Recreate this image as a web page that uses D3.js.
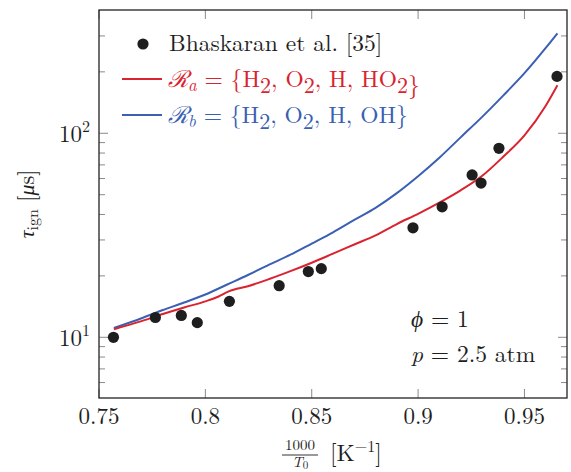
<!DOCTYPE html>
<html>
<head>
<meta charset="utf-8">
<script src="https://cdn.jsdelivr.net/npm/d3@7"></script>
<style>
  html, body { margin: 0; padding: 0; background: #fff; }
  svg { display: block; }
</style>
</head>
<body>
<svg id="chart" width="571" height="472"></svg>
<script>
// Measured ignition delays (Bhaskaran et al.)
const expX = [0.7568, 0.7765, 0.7887, 0.7962, 0.8113, 0.8347, 0.8484, 0.8545, 0.8976, 0.9113, 0.9254, 0.9296, 0.938, 0.9653];
const expY = [10.0, 12.5, 12.8, 11.8, 15.0, 17.9, 21.0, 21.7, 34.4, 43.6, 62.5, 57.0, 84.4, 190];

// Reduced mechanism R_a = {H2, O2, H, HO2}
const redX = [0.757, 0.77, 0.78, 0.79, 0.80, 0.806, 0.811, 0.82, 0.83, 0.84, 0.85, 0.86, 0.87, 0.88, 0.89, 0.90, 0.91, 0.92, 0.93, 0.94, 0.95, 0.96, 0.9655];
const redY = [10.96, 12.0, 13.0, 14.0, 15.0, 15.8, 16.8, 17.8, 19.3, 21.1, 23.2, 25.7, 28.5, 31.6, 35.9, 40.3, 45.7, 52.5, 61.7, 76.7, 97.7, 136.5, 172];

// Reduced mechanism R_b = {H2, O2, H, OH}
const blueX = [0.757, 0.77, 0.78, 0.79, 0.80, 0.81, 0.82, 0.83, 0.84, 0.85, 0.86, 0.87, 0.88, 0.89, 0.90, 0.91, 0.92, 0.93, 0.94, 0.95, 0.96, 0.9655];
const blueY = [11.1, 12.4, 13.6, 14.8, 16.2, 18.1, 20.2, 22.7, 25.4, 28.8, 32.7, 37.6, 43.1, 50.9, 61.6, 75.9, 95.5, 120, 153, 197, 262, 309];

const xTicks = [0.75, 0.8, 0.85, 0.9, 0.95];
const xTickLabels = ["0.75", "0.8", "0.85", "0.9", "0.95"];
const yMajor = [10, 100];
const yMinor = [6, 7, 8, 9, 20, 30, 40, 50, 60, 70, 80, 90, 200, 300];

const RED = "#d9232e";
const BLUE = "#3b5fb3";
const TICK = "#8a8a8a";
const INK = "#1e1e1e";
const FONT = "Latin Modern Roman, Liberation Serif, serif";

const svg = d3.select("#chart").attr("font-family", FONT);
const L = 99, R = 567, T = 10, B = 398;

const x = d3.scaleLinear().domain([0.75, 0.97]).range([L, R]);
const y = d3.scaleLog().domain([5.04, 402]).range([B, T]);

// inward ticks on all four sides
const ticks = svg.append("g").attr("stroke", TICK).attr("stroke-width", 1);
xTicks.forEach(v => {
  ticks.append("line").attr("x1", x(v)).attr("x2", x(v)).attr("y1", B).attr("y2", B - 9);
  ticks.append("line").attr("x1", x(v)).attr("x2", x(v)).attr("y1", T).attr("y2", T + 9);
});
yMajor.forEach(v => {
  ticks.append("line").attr("x1", L).attr("x2", L + 9).attr("y1", y(v)).attr("y2", y(v));
  ticks.append("line").attr("x1", R).attr("x2", R - 9).attr("y1", y(v)).attr("y2", y(v));
});
yMinor.forEach(v => {
  ticks.append("line").attr("x1", L).attr("x2", L + 6).attr("y1", y(v)).attr("y2", y(v));
  ticks.append("line").attr("x1", R).attr("x2", R - 6).attr("y1", y(v)).attr("y2", y(v));
});

// tick labels
const fs = 23;
svg.append("g").selectAll("text").data(xTicks).join("text")
  .attr("font-family", FONT)
  .attr("x", d => x(d)).attr("y", 424).attr("text-anchor", "middle")
  .attr("font-size", fs).attr("fill", INK)
  .text((d, i) => xTickLabels[i]);

const yl = svg.append("g").selectAll("text").data(yMajor).join("text")
  .attr("font-family", FONT)
  .attr("x", 90).attr("y", d => y(d) + 9).attr("text-anchor", "end")
  .attr("font-size", fs).attr("fill", INK);
yl.append("tspan").text("10");
yl.append("tspan").attr("dy", -10).attr("font-size", 16).text(d => Math.round(Math.log10(d)));

// curves
const line = d3.line().x(d => x(d[0])).y(d => y(d[1])).curve(d3.curveMonotoneX);
svg.append("path").datum(blueX.map((v, i) => [v, blueY[i]]))
  .attr("d", line).attr("fill", "none").attr("stroke", BLUE).attr("stroke-width", 2);
svg.append("path").datum(redX.map((v, i) => [v, redY[i]]))
  .attr("d", line).attr("fill", "none").attr("stroke", RED).attr("stroke-width", 2);

// experimental points
svg.append("g").selectAll("circle").data(expX.map((v, i) => [v, expY[i]])).join("circle")
  .attr("cx", d => x(d[0])).attr("cy", d => y(d[1])).attr("r", 5.6).attr("fill", INK);

// frame
svg.append("rect").attr("x", L).attr("y", T).attr("width", R - L).attr("height", B - T)
  .attr("fill", "none").attr("stroke", "#222").attr("stroke-width", 1.3);

// legend
const LFS = 23.5;
const lg = svg.append("g");
lg.append("circle").attr("cx", 143).attr("cy", 44).attr("r", 5.6).attr("fill", INK);
lg.append("text").attr("font-family", FONT).attr("x", 169).attr("y", 51).attr("font-size", LFS).attr("fill", INK)
  .text("Bhaskaran et al. [35]");

function mechLabel(yPos, color, sub, species) {
  lg.append("line").attr("x1", 122).attr("x2", 162).attr("y1", yPos - 8).attr("y2", yPos - 8)
    .attr("stroke", color).attr("stroke-width", 2);
  const t = lg.append("text").attr("font-family", FONT).attr("x", 168).attr("y", yPos)
    .attr("font-size", LFS).attr("fill", color);
  t.append("tspan").attr("font-style", "italic").text("\u211B");
  t.append("tspan").attr("font-style", "italic").attr("font-size", 17).attr("dy", 4).text(sub);
  t.append("tspan").attr("dy", -4).text(" = {");
  species.forEach((s, i) => {
    t.append("tspan").text(s[0]);
    if (s[1]) {
      t.append("tspan").attr("dy", 6).attr("font-size", 22).text(s[1]);
      t.append("tspan").attr("dy", -6).text(i < species.length - 1 ? ", " : "");
    } else if (i < species.length - 1) {
      t.append("tspan").text(", ");
    }
  });
  t.append("tspan").text("}");
}
mechLabel(87, RED, "a", [["H", "2"], ["O", "2"], ["H", ""], ["HO", "2"]]);
mechLabel(123, BLUE, "b", [["H", "2"], ["O", "2"], ["H", ""], ["OH", ""]]);

// conditions
const c1 = svg.append("text").attr("font-family", FONT).attr("x", 411).attr("y", 327).attr("font-size", LFS).attr("fill", INK);
c1.append("tspan").attr("font-style", "italic").text("\u03D5");
c1.append("tspan").text(" = 1");
const c2 = svg.append("text").attr("font-family", FONT).attr("x", 411).attr("y", 362).attr("font-size", LFS).attr("fill", INK);
c2.append("tspan").attr("font-style", "italic").text("p");
c2.append("tspan").text(" = 2.5 atm");

// x axis label: 1000/T0 [K^-1]
const xl = svg.append("g").attr("fill", INK);
xl.append("text").attr("font-family", FONT).attr("x", 300).attr("y", 450).attr("text-anchor", "middle").attr("font-size", 15).text("1000");
xl.append("line").attr("x1", 282).attr("x2", 318).attr("y1", 455).attr("y2", 455).attr("stroke", INK).attr("stroke-width", 0.9);
const tl = xl.append("text").attr("font-family", FONT).attr("x", 300).attr("y", 467).attr("text-anchor", "middle").attr("font-size", 15);
tl.append("tspan").attr("font-style", "italic").text("T");
tl.append("tspan").attr("font-size", 11).attr("dy", 2).text("0");
const kl = xl.append("text").attr("font-family", FONT).attr("x", 330).attr("y", 461).attr("font-size", LFS);
kl.append("tspan").text("[K");
kl.append("tspan").attr("font-size", 16).attr("dy", -9).text("\u22121");
kl.append("tspan").attr("dy", 9).text("]");

// y axis label: tau_ign [mu s]
const ylab = svg.append("text").attr("font-family", FONT).attr("transform", "translate(34,204) rotate(-90)")
  .attr("text-anchor", "middle").attr("font-size", 22).attr("fill", INK);
ylab.append("tspan").attr("font-style", "italic").text("\u03C4");
ylab.append("tspan").attr("font-size", 16).attr("dy", 4).text("ign");
ylab.append("tspan").attr("dy", -4).text(" [");
ylab.append("tspan").attr("font-style", "italic").text("\u03BC");
ylab.append("tspan").text("s]");
</script>
</body>
</html>
